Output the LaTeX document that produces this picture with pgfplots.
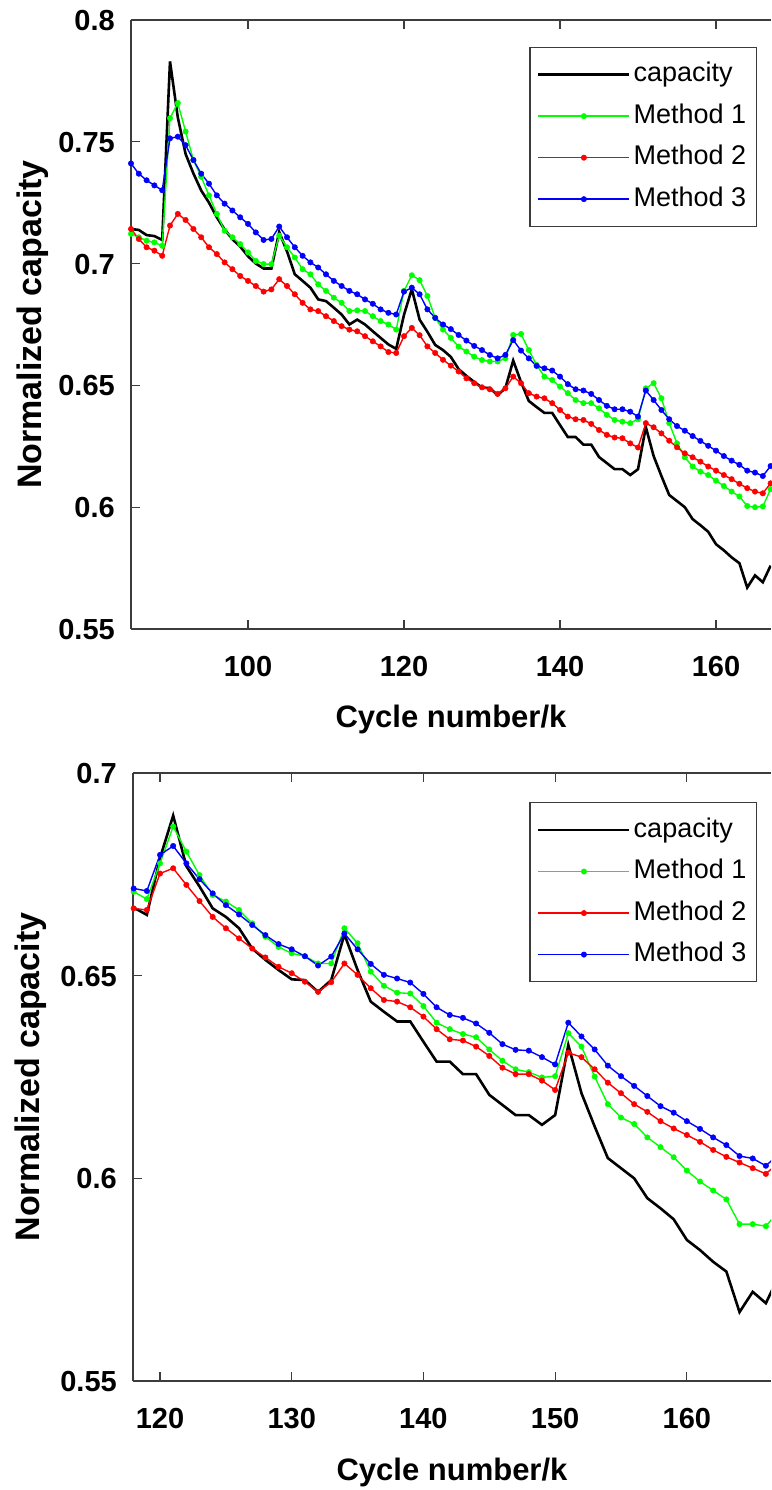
\documentclass[border=0pt]{standalone}
\usepackage{fontspec}
\setmainfont{Liberation Sans}
\usepackage{pgfplots}
\usepackage{pgfplotstable}
\pgfplotsset{compat=1.18}
\definecolor{mgreen}{RGB}{0,255,0}
\definecolor{mred}{RGB}{255,0,0}
\definecolor{mblue}{RGB}{0,0,255}
\definecolor{axgray}{RGB}{60,60,60}

% capacity (shared by both panels)
\pgfplotstableread{
x y
85 0.7142
86 0.7138
87 0.7117
88 0.7113
89 0.7097
90 0.7830
91 0.7600
92 0.7450
93 0.7370
94 0.7300
95 0.7250
96 0.7190
97 0.7140
98 0.7100
99 0.7070
100 0.7030
101 0.7000
102 0.6980
103 0.6980
104 0.7130
105 0.7050
106 0.6956
107 0.6929
108 0.6901
109 0.6853
110 0.6846
111 0.6819
112 0.6791
113 0.6750
114 0.6770
115 0.6750
116 0.6722
117 0.6695
118 0.6668
119 0.6650
120 0.6790
121 0.6895
122 0.6770
123 0.6720
124 0.6666
125 0.6645
126 0.6617
127 0.6567
128 0.6539
129 0.6514
130 0.6491
131 0.6489
132 0.6460
133 0.6489
134 0.6602
135 0.6514
136 0.6436
137 0.6411
138 0.6387
139 0.6387
140 0.6337
141 0.6288
142 0.6288
143 0.6257
144 0.6257
145 0.6206
146 0.6181
147 0.6156
148 0.6156
149 0.6132
150 0.6156
151 0.6329
152 0.6210
153 0.6128
154 0.6050
155 0.6025
156 0.6000
157 0.5951
158 0.5926
159 0.5899
160 0.5848
161 0.5823
162 0.5794
163 0.5770
164 0.5670
165 0.5720
166 0.5692
167 0.5760
}\capdata

% top panel methods
\pgfplotstableread{
x g r b
85 0.7122 0.7142 0.7411
86 0.7108 0.7101 0.7369
87 0.7094 0.7067 0.7342
88 0.7087 0.7053 0.7321
89 0.7073 0.7032 0.7301
90 0.7597 0.7156 0.7514
91 0.7659 0.7204 0.7521
92 0.7542 0.7179 0.7486
93 0.7425 0.7142 0.7425
94 0.7356 0.7108 0.7369
95 0.7280 0.7067 0.7328
96 0.7204 0.7039 0.7280
97 0.7135 0.7005 0.7246
98 0.7108 0.6977 0.7218
99 0.7080 0.6949 0.7190
100 0.7046 0.6929 0.7163
101 0.7011 0.6908 0.7128
102 0.6998 0.6885 0.7097
103 0.6998 0.6894 0.7101
104 0.7115 0.6936 0.7152
105 0.7067 0.6908 0.7108
106 0.7025 0.6874 0.7067
107 0.6977 0.6839 0.7032
108 0.6956 0.6812 0.7005
109 0.6915 0.6805 0.6984
110 0.6888 0.6784 0.6956
111 0.6860 0.6764 0.6929
112 0.6839 0.6743 0.6908
113 0.6805 0.6729 0.6888
114 0.6808 0.6722 0.6874
115 0.6805 0.6702 0.6853
116 0.6784 0.6681 0.6835
117 0.6764 0.6660 0.6812
118 0.6750 0.6637 0.6798
119 0.6729 0.6633 0.6791
120 0.6888 0.6702 0.6885
121 0.6952 0.6736 0.6901
122 0.6932 0.6706 0.6874
123 0.6867 0.6660 0.6812
124 0.6777 0.6633 0.6777
125 0.6729 0.6605 0.6750
126 0.6695 0.6581 0.6731
127 0.6659 0.6557 0.6707
128 0.6639 0.6529 0.6684
129 0.6618 0.6509 0.6662
130 0.6604 0.6492 0.6645
131 0.6598 0.6484 0.6625
132 0.6598 0.6465 0.6611
133 0.6611 0.6488 0.6625
134 0.6707 0.6536 0.6686
135 0.6711 0.6509 0.6643
136 0.6645 0.6468 0.6611
137 0.6584 0.6454 0.6580
138 0.6536 0.6447 0.6570
139 0.6522 0.6427 0.6561
140 0.6495 0.6399 0.6536
141 0.6468 0.6372 0.6505
142 0.6440 0.6361 0.6484
143 0.6427 0.6358 0.6479
144 0.6427 0.6342 0.6465
145 0.6406 0.6317 0.6440
146 0.6379 0.6297 0.6416
147 0.6358 0.6286 0.6402
148 0.6351 0.6283 0.6402
149 0.6345 0.6262 0.6392
150 0.6361 0.6245 0.6372
151 0.6488 0.6345 0.6479
152 0.6509 0.6328 0.6440
153 0.6447 0.6303 0.6399
154 0.6345 0.6273 0.6361
155 0.6262 0.6246 0.6333
156 0.6205 0.6221 0.6314
157 0.6167 0.6205 0.6292
158 0.6146 0.6187 0.6272
159 0.6132 0.6167 0.6252
160 0.6109 0.6150 0.6232
161 0.6087 0.6132 0.6210
162 0.6064 0.6115 0.6191
163 0.6044 0.6096 0.6174
164 0.6005 0.6078 0.6150
165 0.6000 0.6064 0.6142
166 0.6003 0.6057 0.6128
167 0.6074 0.6098 0.6169
}\topdata

% bottom panel methods
\pgfplotstableread{
x g r b
118 0.6707 0.6666 0.6715
119 0.6689 0.6662 0.6709
120 0.6777 0.6752 0.6798
121 0.6868 0.6765 0.6820
122 0.6806 0.6724 0.6777
123 0.6748 0.6684 0.6738
124 0.6699 0.6645 0.6703
125 0.6683 0.6617 0.6674
126 0.6662 0.6592 0.6651
127 0.6629 0.6567 0.6625
128 0.6596 0.6545 0.6600
129 0.6571 0.6522 0.6578
130 0.6555 0.6506 0.6565
131 0.6548 0.6485 0.6548
132 0.6530 0.6460 0.6525
133 0.6530 0.6484 0.6547
134 0.6617 0.6530 0.6604
135 0.6580 0.6502 0.6565
136 0.6510 0.6469 0.6529
137 0.6475 0.6440 0.6502
138 0.6458 0.6436 0.6493
139 0.6456 0.6422 0.6483
140 0.6425 0.6399 0.6455
141 0.6384 0.6368 0.6422
142 0.6368 0.6343 0.6403
143 0.6356 0.6340 0.6396
144 0.6348 0.6325 0.6382
145 0.6318 0.6302 0.6359
146 0.6290 0.6273 0.6331
147 0.6269 0.6257 0.6317
148 0.6262 0.6257 0.6315
149 0.6249 0.6241 0.6299
150 0.6252 0.6218 0.6281
151 0.6358 0.6310 0.6384
152 0.6325 0.6299 0.6350
153 0.6251 0.6269 0.6318
154 0.6183 0.6236 0.6278
155 0.6150 0.6210 0.6252
156 0.6134 0.6183 0.6228
157 0.6101 0.6164 0.6203
158 0.6077 0.6141 0.6178
159 0.6052 0.6123 0.6162
160 0.6019 0.6107 0.6141
161 0.5992 0.6090 0.6122
162 0.5970 0.6070 0.6101
163 0.5948 0.6053 0.6082
164 0.5887 0.6039 0.6055
165 0.5887 0.6025 0.6049
166 0.5882 0.6011 0.6031
167 0.5920 0.6040 0.6060
}\botdata

\pgfplotsset{
  panel/.style={
    scale only axis,
    axis x line*=box,
    axis y line*=left,
    y axis line style={-},
    axis line style={draw=axgray, line width=1.3pt},
    every tick/.style={draw=axgray, line width=1.1pt},
    major tick length=9pt,
    tick align=inside,
    clip=true,
    /pgf/number format/assume math mode=true,
    ticklabel style={font=\bfseries\fontsize{29}{29}\selectfont},
    xticklabel style={anchor=north, inner sep=0pt, text height=21pt, text depth=0pt, yshift=-26pt},
    yticklabel style={anchor=east, inner sep=0pt, text height=21pt, text depth=0pt, xshift=-16pt},
    xlabel={Cycle number/k},
    ylabel={Normalized capacity},
    xlabel style={font=\bfseries\fontsize{31}{31}\selectfont, at={(axis description cs:0.5,0)}, anchor=base, yshift=-99pt},
    legend cell align=left,
    legend image code/.code={\draw[mark repeat=2,mark phase=2,##1] plot coordinates {(0pt,0pt) (45.5pt,0pt) (91pt,0pt)};},
    legend style={draw=axgray, line width=1.3pt, fill=white,
      font=\fontsize{27}{27}\selectfont,
      inner xsep=7pt, inner ysep=6.5pt,
      nodes={inner xsep=3pt, inner ysep=4pt, text height=24pt, text depth=9.5pt},
      row sep=0pt},
  },
  capstyle/.style={draw=black, line width=2.6pt, no markers},
  mstyle/.style={draw=#1, line width=1.4pt, mark=*, mark size=2.7pt, mark options={solid, fill=#1, draw=#1, line width=0.5pt}},
}

\begin{document}
\begin{tikzpicture}
\path[use as bounding box] (0pt,0pt) rectangle (771pt,1490pt);

\begin{axis}[panel,
  at={(131pt,861pt)}, anchor=south west,
  width=640pt, height=609pt,
  xmin=85, xmax=167.05, ymin=0.55, ymax=0.8,
  xtick={100,120,140,160},
  ytick={0.55,0.6,0.65,0.7,0.75,0.8},
  yticklabels={0.55,0.6,0.65,0.7,0.75,0.8},
  ylabel style={font=\bfseries\fontsize{34}{34}\selectfont, at={(axis description cs:-0.153,0.5)}, anchor=center, rotate=0},
  legend style={at={(0.978,0.956)}, anchor=north east},
]
\addplot[capstyle] table[x=x,y=y] {\capdata};
\addlegendentry{capacity}
\addplot[mstyle=mgreen] table[x=x,y=g] {\topdata};
\addlegendentry{Method 1}
\addplot[mstyle=mred] table[x=x,y=r] {\topdata};
\addlegendentry{Method 2}
\addplot[mstyle=mblue] table[x=x,y=b] {\topdata};
\addlegendentry{Method 3}
\end{axis}

\begin{axis}[panel,
  at={(133pt,109pt)}, anchor=south west,
  width=638pt, height=608pt,
  xmin=117.95, xmax=166.39, ymin=0.55, ymax=0.7,
  xtick={120,130,140,150,160},
  ytick={0.55,0.6,0.65,0.7},
  yticklabels={0.55,0.6,0.65,0.7},
  ylabel style={font=\bfseries\fontsize{34}{34}\selectfont, at={(axis description cs:-0.16,0.5)}, anchor=center, rotate=0},
  legend style={at={(0.978,0.952)}, anchor=north east},
]
\addplot[capstyle] table[x=x,y=y] {\capdata};
\addlegendentry{capacity}
\addplot[mstyle=mgreen] table[x=x,y=g] {\botdata};
\addlegendentry{Method 1}
\addplot[mstyle=mred] table[x=x,y=r] {\botdata};
\addlegendentry{Method 2}
\addplot[mstyle=mblue] table[x=x,y=b] {\botdata};
\addlegendentry{Method 3}
\end{axis}
\end{tikzpicture}
\end{document}
